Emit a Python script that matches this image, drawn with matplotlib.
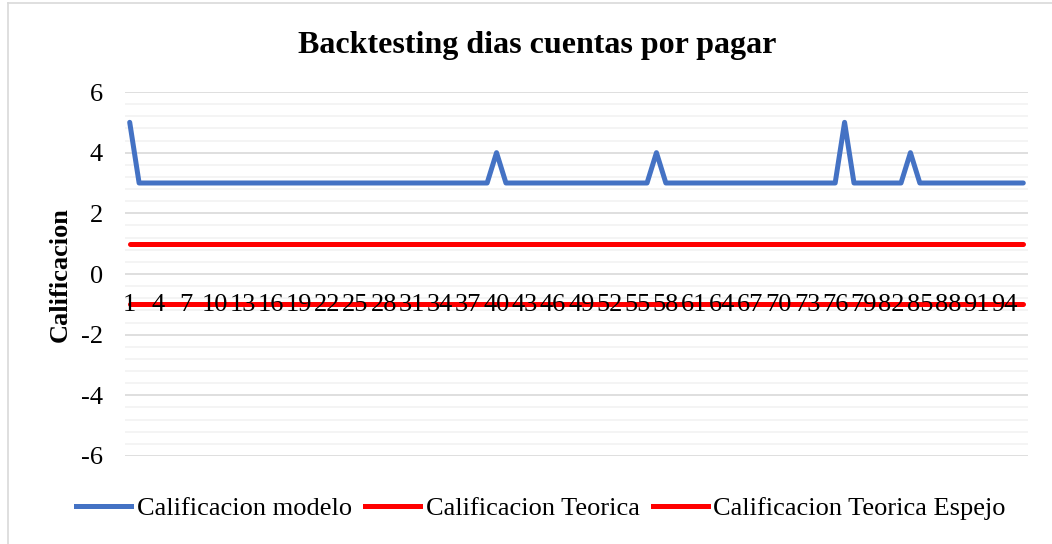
import matplotlib
matplotlib.use("Agg")
import matplotlib.pyplot as plt
from matplotlib.lines import Line2D
import numpy as np

title = "Backtesting dias cuentas por pagar"
ylabel = "Calificacion"
series_names = ["Calificacion modelo", "Calificacion Teorica", "Calificacion Teorica Espejo"]
categories = list(range(1, 97))
# Model rating: mostly 3, with a 5 at start and spikes
modelo = [3] * 96
modelo[0] = 5
modelo[39] = 4
modelo[56] = 4
modelo[76] = 5
modelo[83] = 4
teorica = [1] * 96
espejo = [-1] * 96
tick_labels = [str(c) for c in categories[::3]]

plt.rcParams['font.family'] = ['Liberation Serif', 'DejaVu Serif']

fig = plt.figure(figsize=(10.52, 5.44), dpi=100)
W, H = 1052, 544
ax = fig.add_axes([125 / W, 1 - 456 / H, (1028 - 125) / W, (456 - 92) / H])

x = np.array(categories)
lw = 3.6
ax.plot(x, modelo, color="#4472C4", lw=lw, solid_joinstyle="round", solid_capstyle="round", zorder=3)
ax.plot(x, teorica, color="#FF0000", lw=lw, solid_capstyle="round", zorder=3)
ax.plot(x, espejo, color="#FF0000", lw=lw, solid_capstyle="round", zorder=1.5)

ax.set_xlim(0.5, 96.5)
ax.set_ylim(-6, 6)
ax.set_yticks(np.arange(-6, 7, 2))
ax.set_yticks(np.arange(-6, 6.01, 0.4), minor=True)
ax.set_yticklabels([str(v) for v in range(-6, 7, 2)], fontsize=19)
ax.tick_params(axis='y', which='both', length=0, pad=16)
ax.grid(axis='y', which='major', color="#d9d9d9", lw=1.2, zorder=0)
ax.grid(axis='y', which='minor', color="#f2f2f2", lw=1.2, zorder=0)
for s in ax.spines.values():
    s.set_visible(False)
ax.set_xticks([])

# category labels next to the axis crossing at 0
for c, lab in zip(categories[::3], tick_labels):
    ax.annotate(lab, xy=(c, 0), xytext=(0, -31), textcoords='offset pixels',
                ha='center', va='center', fontsize=19, color="#000000", zorder=2)

fig.text(60 / W, 1 - 275 / H, ylabel, rotation=90, ha='center', va='center',
         fontsize=19, fontweight='bold')

fig.text(537 / W, 1 - 46 / H, title, ha='center', va='center', fontsize=23, fontweight='bold')

handles = [Line2D([0], [0], color="#4472C4", lw=lw),
           Line2D([0], [0], color="#FF0000", lw=lw),
           Line2D([0], [0], color="#FF0000", lw=lw)]
fig.legend(handles, series_names, loc='center', bbox_to_anchor=(541 / W, 1 - 508 / H),
           ncol=3, frameon=False, fontsize=19, handlelength=2.1, handletextpad=0.2,
           columnspacing=0.5)

# outer border (left and top visible)
fig.add_artist(Line2D([8 / W, 8 / W], [0, 1 - 3 / H], color="#d9d9d9", lw=1.2, transform=fig.transFigure))
fig.add_artist(Line2D([8 / W, 1], [1 - 3 / H, 1 - 3 / H], color="#d9d9d9", lw=1.2, transform=fig.transFigure))

fig.savefig("out.png", dpi=100)
